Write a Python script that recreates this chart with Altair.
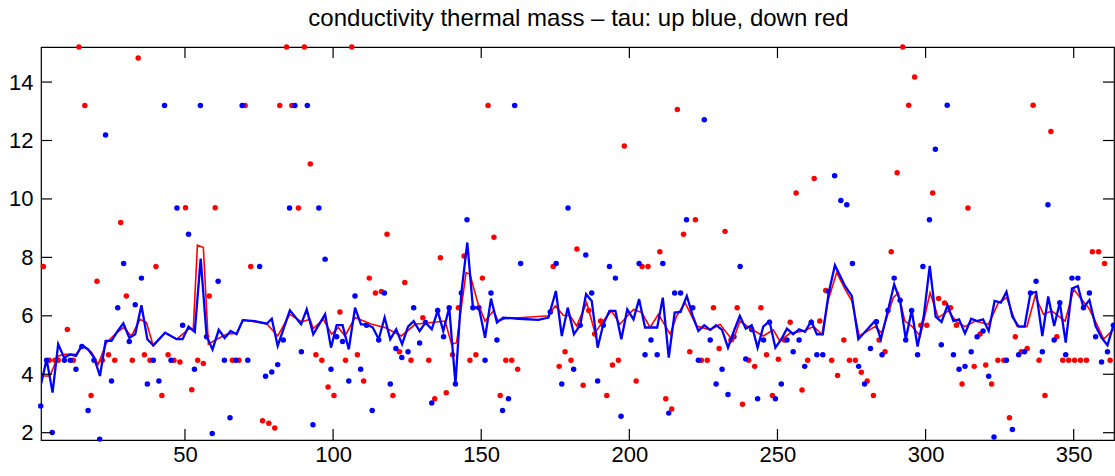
import altair as alt
import pandas as pd

# ---------------- data ----------------
red_dot_x = [2.2, 4.2, 6.1, 7.2, 10.3, 12.3, 14.2, 16.2, 18.3, 20.3, 22.1, 24.2, 26.3, 28.3, 30.2, 32.2,
             34.2, 36.3, 38.2, 40.2, 42.2, 44.3, 46.3, 48.3, 50.2, 52.3, 54.3, 56.2, 58.2, 60.2, 66.0, 68.2,
             70.3, 72.2, 76.2, 78.3, 80.3, 82.0, 84.3, 86.1, 88.3, 90.3, 92.3,
             94.2, 96.2, 98.3, 100.3, 102.3, 104.2, 106.3, 108.2, 110.3, 112.2, 114.3, 116.3, 118.2, 120.2,
             122.4, 124.2, 126.3, 130.3, 132.3, 134.3, 136.2, 138.2, 140.3, 142.3, 144.2, 146.2, 148.2,
             150.4, 152.3, 154.3, 156.4, 158.3, 160.3, 162.3, 174.3, 176.3, 178.3, 180.3,
             182.3, 184.4, 186.3, 188.3, 190.3, 192.4, 194.3, 196.3, 198.3, 202.3, 204.3, 206.3, 210.3,
             212.3, 214.3, 216.2, 218.3, 220.4, 222.3, 224.3, 226.3, 228.4, 230.3, 232.3, 234.3, 236.4,
             238.2, 240.3, 242.3, 244.4, 246.3, 248.3, 250.3, 252.3, 254.3, 256.3, 258.3, 260.2, 262.4,
             264.3, 266.3, 268.3, 270.3,
             272.4, 274.3, 276.3, 278.3, 280.3, 282.4, 284.3, 286.3, 288.4, 290.4, 292.3, 294.3, 296.3,
             298.4, 300.4, 302.4, 304.4, 306.4, 308.4, 310.4, 312.3, 314.3, 316.4, 318.4, 320.3, 322.3,
             324.4, 326.4, 328.3, 330.3, 332.3, 334.3, 336.3, 338.3, 340.3, 342.3, 344.3, 346.3, 348.3,
             350.3, 352.3, 354.3, 356.3, 358.4, 360.4, 362.3]
red_dot_y = [7.69, 4.48, 4.48, 4.48, 5.53, 4.48, 15.2, 13.2, 3.27, 7.18, 4.48, 4.67, 4.48, 9.19, 6.68, 4.48,
             14.82, 4.67, 4.48, 7.69, 3.27, 4.67, 4.48, 4.42, 9.7, 3.47, 4.48, 4.37, 6.68, 9.7, 4.48, 4.48,
             13.2, 7.69, 2.41, 2.32, 2.16, 13.2, 15.2, 13.2, 9.69, 15.2, 11.2,
             4.67, 4.48, 3.56, 3.27, 6.13, 4.48, 15.2, 4.67, 3.77, 7.29, 6.78, 6.83, 8.79, 3.27,
             4.77, 7.14, 4.48, 5.93, 4.48, 3.16, 7.99, 3.37, 4.67, 6.28, 8.05, 4.48, 4.67,
             7.29, 13.2, 8.69, 3.27, 4.48, 4.48, 4.17, 7.69, 4.27, 4.77, 4.48,
             8.29, 3.62, 6.18, 5.38, 5.82, 3.27, 4.32, 4.48, 11.81, 3.77, 7.69, 7.69, 8.19,
             3.16, 2.81, 13.06, 8.79, 4.77, 9.29, 4.48, 4.48, 6.28, 4.88, 8.89, 5.17, 6.28,
             2.97, 4.48, 4.27, 6.28, 4.67, 3.27, 4.51, 5.17, 5.78, 10.2, 3.46, 4.48, 10.7,
             5.82, 6.87, 4.48, 3.96,
             5.17, 4.48, 4.48, 4.07, 3.77, 3.27, 5.17, 4.77, 8.19, 10.9, 15.2, 13.21, 14.17,
             5.68, 5.68, 10.2, 6.59, 6.44, 6.28, 5.68, 3.67, 9.69, 4.27, 5.38, 4.32, 3.67,
             4.48, 4.48, 2.51, 5.28, 4.77, 4.88, 13.21, 4.48, 3.27, 12.31, 5.28, 4.48, 4.48,
             4.48, 4.48, 4.48, 8.19, 8.19, 7.79, 4.48]

blue_dot_x = [1.3, 3.3, 5.2, 9.3, 11.3, 13.2, 15.2, 17.3, 19.3, 21.2, 23.2, 25.2, 27.3, 29.3, 31.2, 33.2,
              35.3, 37.3, 39.3, 41.2, 43.1, 45.3, 47.3, 49.2, 51.2, 53.2, 55.2, 57.3, 59.2, 61.2, 63.3,
              65.2, 67.2, 69.3, 71.2, 75.2, 77.2, 79.3, 81.3, 83.2, 85.3, 87.1, 89.3, 91.3,
              93.2, 95.2, 97.3, 99.3, 101.2, 103.2, 105.3, 107.4, 109.3, 111.3, 113.2, 115.4, 117.3,
              119.3, 121.2, 123.2, 125.3, 127.2, 129.2, 131.2, 133.3, 135.3, 137.3, 139.2, 141.3, 143.3,
              145.2, 147.2, 149.2, 151.3, 153.3, 155.3, 157.2, 159.2, 161.3, 163.3, 173.3, 175.3, 177.2,
              179.3, 181.2,
              183.4, 185.3, 187.3, 189.3, 191.2, 193.3, 195.3, 197.2, 203.3, 205.3, 207.3, 209.4, 211.3,
              213.3, 215.3, 217.3, 219.3, 221.4, 223.3, 225.3, 227.3, 229.3, 231.3, 233.3, 235.3, 237.4,
              239.3, 241.3, 243.3, 245.3, 247.3, 249.3, 251.3, 253.2, 255.3, 257.3, 259.2, 261.4, 263.3,
              265.3, 267.3, 269.3,
              271.4, 273.4, 275.3, 277.4, 279.4, 281.4, 283.4, 285.3, 287.3, 289.4, 291.4, 293.3, 295.3,
              297.3, 299.1, 301.3, 303.3, 305.3, 307.3, 309.4, 311.3, 313.3, 315.4, 317.4, 319.4, 321.3,
              323.1, 327.3, 329.3, 331.4, 333.4, 335.4, 337.3, 339.4, 341.3, 343.4, 345.3, 347.3, 349.4,
              351.4, 353.3, 355.3, 357.4, 359.4, 361.4, 363.4]
blue_dot_y = [2.91, 4.48, 2.01, 4.48, 4.48, 4.17, 4.95, 2.76, 4.48, 1.78, 12.19, 3.77, 6.28, 7.79, 5.12, 6.38,
              7.29, 3.67, 4.48, 3.77, 13.2, 4.48, 9.69, 5.68, 8.79, 4.17, 13.2, 5.28, 1.97, 7.18, 4.48,
              2.51, 4.48, 13.2, 4.48, 7.69, 3.93, 4.08, 4.33, 5.17, 9.69, 13.2, 4.77, 13.2,
              2.27, 9.69, 7.94, 4.17, 5.28, 5.12, 3.77, 6.68, 4.17, 5.68, 2.76, 5.17, 6.78,
              3.67, 4.88, 4.57, 4.77, 6.28, 5.07, 5.77, 3.02, 6.18, 5.28, 6.28, 3.67, 6.78,
              9.29, 6.28, 6.28, 4.48, 6.78, 5.17, 2.76, 3.16, 13.2, 7.79, 6.13, 7.79, 3.67,
              9.69, 4.17,
              5.68, 8.08, 6.78, 3.77, 5.68, 7.69, 7.29, 2.56, 7.79, 4.67, 5.17, 4.67, 7.79,
              2.67, 6.78, 6.78, 9.29, 6.28, 4.48, 12.71, 5.17, 3.67, 4.17, 3.31, 5.28, 7.69,
              4.52, 5.53, 3.16, 5.17, 5.78, 3.16, 3.67, 5.17, 4.77, 5.17, 4.27, 5.78, 4.67,
              4.67, 6.83, 10.79,
              9.95, 9.8, 7.79, 4.27, 3.67, 4.88, 5.8, 4.67, 6.18, 7.29, 6.53, 5.17, 6.18,
              4.67, 7.69, 9.29, 11.7, 5.01, 13.21, 4.67, 4.17, 4.27, 4.77, 5.28, 5.48, 3.93,
              1.85, 4.48, 2.11, 4.67, 4.77, 6.78, 7.18, 4.77, 9.8, 5.17, 6.45, 4.67, 7.29,
              7.29, 6.28, 6.78, 5.28, 4.42, 4.77, 5.68]

red_line_x = [1.0, 4.4, 7.2, 9.5, 13.2, 15.7, 18.5, 20.7, 23.5, 26.9, 29.2, 32.0, 34.8, 37.0, 39.3, 43.3,
              47.2, 51.2, 52.8, 54.2, 56.2, 57.9, 60.7, 64.1, 67.4, 69.7, 77.6, 81.3, 85.4, 89.4, 92.2,
              93.3, 96.7, 99.5, 101.8, 104.0, 107.4, 113.0, 117.5, 123.1, 127.7, 133.3, 137.8, 140.0,
              141.7, 143.4, 144.9, 146.2, 149.0, 151.3, 154.1, 155.8, 158.0, 172.7, 175.0, 177.7, 180.0,
              182.2, 185.6, 188.4, 191.2, 194.0, 196.8, 201.4, 204.2, 207.0, 209.8, 213.8, 216.0, 218.8,
              222.7, 227.3, 230.6, 235.0, 237.3, 241.3, 245.2, 248.6, 250.8, 254.2, 258.8, 262.2, 265.0,
              267.2, 270.0, 272.8, 275.1, 277.6, 282.9, 285.2, 289.1, 290.8, 293.0, 295.3, 298.2, 301.5,
              304.3, 307.7, 310.5, 313.3, 316.7, 321.2, 324.6, 327.4, 330.8, 334.2, 337.0, 339.8, 342.6,
              347.1, 350.0, 352.2, 355.0, 357.8, 360.1, 363.5]
red_line_y = [3.94, 3.94, 4.63, 4.68, 4.68, 4.99, 4.74, 4.34, 5.08, 5.42, 5.6, 5.31, 5.88, 5.77, 4.97, 5.42,
              5.2, 5.54, 5.54, 8.42, 8.34, 5.03, 5.2, 5.37, 5.4, 5.86, 5.73, 5.31, 6.05, 5.79, 5.88,
              5.56, 5.88, 5.37, 5.6, 5.31, 5.94, 5.71, 5.6, 5.31, 5.71, 5.77, 5.82, 5.03,
              5.08, 6.39, 7.48, 7.42, 6.39, 5.82, 6.17, 5.82, 5.9, 6.0, 6.34, 6.02, 6.0,
              5.65, 6.45, 5.42, 5.82, 6.17, 5.71, 6.22, 6.11, 5.6, 6.05, 5.37, 6.0, 6.45,
              5.65, 5.52, 5.71, 5.14, 5.82, 5.54, 5.31, 5.52, 5.14, 5.4, 5.48, 5.63, 5.37,
              6.57, 7.48, 6.91, 6.51, 5.31, 5.63, 5.42, 6.62, 6.79, 5.82, 5.65, 5.31, 6.79,
              5.94, 6.17, 5.79, 5.63, 5.82, 5.71, 6.45, 6.62, 5.65, 5.63, 6.68, 6.05, 6.17,
              5.82, 6.91, 6.62, 6.28, 5.71, 5.2, 5.54]

blue_line_x = [1.0, 3.3, 5.3, 7.2, 9.2, 11.2, 13.2, 15.2, 17.3, 19.3, 21.3, 23.2, 25.2, 27.3, 29.2, 31.2,
               33.2, 35.3, 37.3, 39.3, 43.3, 47.2, 49.2, 51.2, 53.3, 55.3, 57.3, 59.3, 61.4, 63.4, 65.4,
               67.4, 69.5, 73.6, 77.6, 79.3, 81.3, 85.4, 89.2, 91.1, 93.3, 97.3, 99.3, 101.2, 103.2,
               105.3, 107.4, 109.4, 111.3, 113.4, 115.4, 117.4, 119.3, 121.3, 123.3, 125.3, 127.2, 129.2,
               131.2, 133.3, 135.3, 137.2, 139.2, 141.3, 143.3, 145.3, 147.2, 149.2, 151.3, 153.3, 155.3,
               157.4, 162.5, 169.3, 172.7, 175.2, 177.2, 179.2, 181.3, 183.4, 185.4, 187.3, 189.3, 191.2,
               193.3, 195.3, 197.3, 199.3, 201.4, 203.3, 205.3, 207.3, 209.4, 211.3, 213.3, 215.3, 217.3,
               219.4, 221.4, 223.3, 225.3, 227.3, 229.3, 231.3, 233.3, 235.3, 237.3, 239.3, 241.3, 243.3,
               245.2, 247.3, 249.3, 251.3, 253.2, 255.3, 257.3, 259.3, 261.4, 263.3, 265.3, 267.3, 269.4,
               272.8, 275.1, 277.3, 282.9, 284.9, 287.3, 289.4, 291.4, 293.3, 295.3, 297.3, 299.4, 301.4,
               303.4, 305.4, 307.4, 309.4, 311.3, 313.3, 315.4, 317.4, 319.4, 321.3, 323.3, 325.4, 327.3,
               329.3, 331.4, 333.4, 335.4, 337.3, 339.4, 341.4, 343.4, 345.3, 347.3, 349.4, 351.4, 353.3,
               355.3, 357.4, 359.4, 361.4, 363.4]
blue_line_y = [3.48, 4.51, 3.37, 5.03, 4.57, 4.68, 4.63, 4.99, 4.85, 4.57, 3.94, 5.14, 5.14, 5.48, 5.74, 5.25,
               5.37, 6.36, 5.2, 4.99, 5.42, 5.2, 5.2, 5.63, 5.45, 7.96, 5.31, 4.85, 5.52, 5.24, 5.48,
               5.37, 5.85, 5.82, 5.73, 5.9, 4.97, 6.19, 5.71, 6.22, 5.37, 6.05, 4.91, 5.68, 5.68,
               4.85, 6.28, 5.71, 5.71, 5.6, 5.2, 5.94, 5.2, 5.54, 5.03, 5.63, 5.82, 5.48,
               5.77, 5.54, 6.17, 5.48, 6.28, 3.67, 6.79, 8.51, 6.28, 6.28, 5.25, 6.59, 5.77,
               5.94, 5.9, 5.86, 5.94, 6.85, 5.31, 6.28, 5.37, 5.68, 6.74, 6.51, 4.91, 5.71,
               6.17, 6.17, 5.2, 6.22, 5.88, 6.57, 5.6, 5.6, 5.6, 6.62, 4.57, 6.11, 6.13,
               6.68, 6.0, 5.48, 5.68, 5.52, 5.68, 5.52, 4.91, 5.48, 6.0, 5.56, 5.68, 4.91,
               5.63, 5.82, 4.91, 5.2, 5.56, 5.37, 5.54, 5.45, 5.82, 5.37, 5.37, 6.79, 7.73,
               7.02, 6.68, 5.2, 5.82, 5.2, 6.18, 7.08, 6.51, 5.2, 6.18, 4.95, 6.0, 7.71,
               5.97, 5.79, 6.36, 5.82, 5.88, 5.4, 5.9, 5.82, 5.88, 5.48, 6.51, 6.45, 6.82,
               5.97, 5.63, 5.63, 6.77, 6.82, 5.31, 6.66, 5.65, 6.45, 5.08, 6.93, 7.02, 6.28,
               6.54, 5.65, 5.25, 4.99, 5.68]

x_ticks = [50, 100, 150, 200, 250, 300, 350]
y_ticks = [2, 4, 6, 8, 10, 12, 14]
title_text = ["conductivity thermal mass \u2013 tau: up blue, down red"]

# ---------------- chart ----------------
W, H = 1073, 393
FONT = "Liberation Sans"
RED, BLUE = "#ff0000", "#0000ff"

xs = alt.Scale(domain=[1.4, 363.6], nice=False, zero=False)
ys = alt.Scale(domain=[1.75, 15.2], nice=False, zero=False)

x_axis = alt.Axis(values=x_ticks, tickSize=0, domain=False, grid=False, labelFont=FONT,
                  labelFontSize=22, labelColor="black", labelPadding=4, title=None)
y_axis = alt.Axis(values=y_ticks, tickSize=0, domain=False, grid=False, labelFont=FONT,
                  labelFontSize=22, labelColor="black", labelPadding=8, title=None)


def X():
    return alt.X("x:Q", scale=xs, axis=x_axis)


def Y():
    return alt.Y("y:Q", scale=ys, axis=y_axis)


red_dots = pd.DataFrame({"x": red_dot_x, "y": red_dot_y})
blue_dots = pd.DataFrame({"x": blue_dot_x, "y": blue_dot_y})
red_line = pd.DataFrame({"x": red_line_x, "y": red_line_y})
blue_line = pd.DataFrame({"x": blue_line_x, "y": blue_line_y})

l_rdots = alt.Chart(red_dots).mark_circle(color=RED, size=30, opacity=1).encode(x=X(), y=Y())
l_bdots = alt.Chart(blue_dots).mark_circle(color=BLUE, size=30, opacity=1).encode(x=X(), y=Y())
l_rline = alt.Chart(red_line).mark_line(color=RED, strokeWidth=1.6, clip=True).encode(
    x=X(), y=Y(), order="x:Q")
l_bline = alt.Chart(blue_line).mark_line(color=BLUE, strokeWidth=2.3, clip=True).encode(
    x=X(), y=Y(), order="x:Q")

xt = pd.DataFrame({"x": x_ticks})
yt = pd.DataFrame({"y": y_ticks})
tick_b = alt.Chart(xt).mark_rule(color="black", strokeWidth=1.2).encode(
    x=X(), y=alt.value(H), y2=alt.value(H - 11))
tick_t = alt.Chart(xt).mark_rule(color="black", strokeWidth=1.2).encode(
    x=X(), y=alt.value(0), y2=alt.value(11))
tick_l = alt.Chart(yt).mark_rule(color="black", strokeWidth=1.2).encode(
    y=Y(), x=alt.value(0), x2=alt.value(11))
tick_r = alt.Chart(yt).mark_rule(color="black", strokeWidth=1.2).encode(
    y=Y(), x=alt.value(W), x2=alt.value(W - 11))

title_layer = alt.Chart(pd.DataFrame({"t": title_text})).mark_text(
    font=FONT, fontSize=24, color="black", align="center", baseline="alphabetic"
).encode(text="t:N", x=alt.value(W / 2 + 1), y=alt.value(-21))

chart = alt.layer(l_rdots, l_bdots, l_rline, l_bline, tick_b, tick_t, tick_l, tick_r,
                  title_layer).properties(
    width=W, height=H,
    autosize=alt.AutoSizeParams(type="none"),
    padding={"left": 41, "top": 47, "right": 1, "bottom": 36},
    background="white",
).configure_view(stroke="black", strokeWidth=1.2)

chart.save("out.html", embed_options={"renderer": "svg", "actions": False})
